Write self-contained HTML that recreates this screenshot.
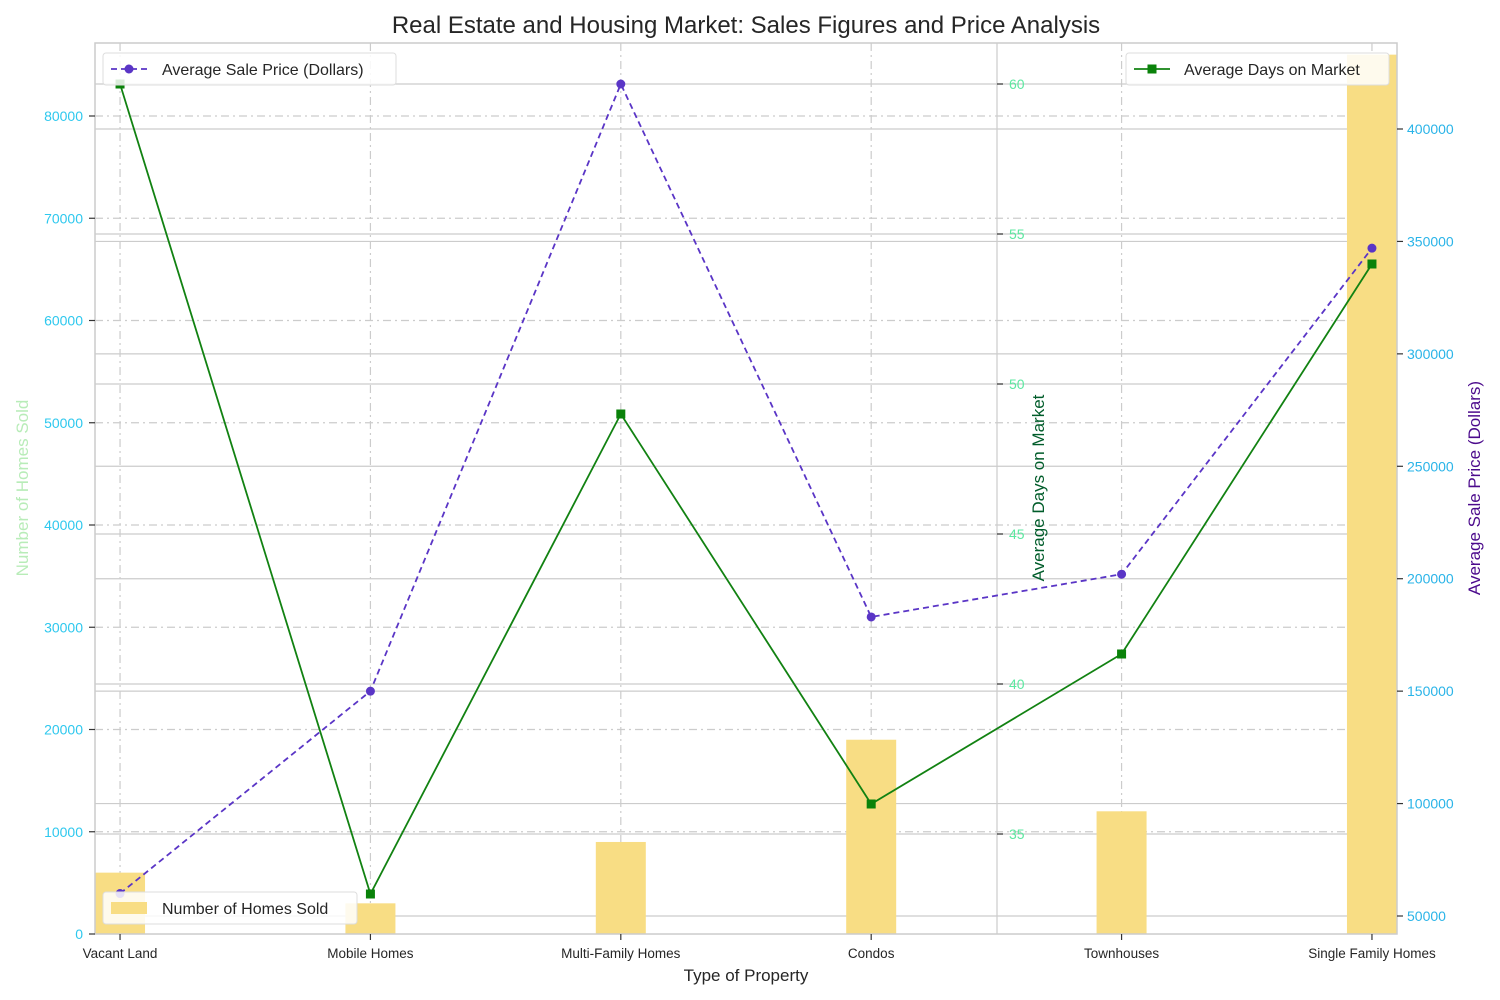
<!DOCTYPE html>
<html><head><meta charset="utf-8"><style>
body{margin:0;background:#fff;}
svg{display:block;font-family:"Liberation Sans","DejaVu Sans",sans-serif;}
</style></head><body>
<svg id="c" width="1500" height="1000" viewBox="0 0 1500 1000"></svg>
<script>
const categories=["Vacant Land","Mobile Homes","Multi-Family Homes","Condos","Townhouses","Single Family Homes"];
const homesSold=[6000,3000,9000,19000,12000,86000];
const avgDays=[60,33,49,36,41,54];
const avgPrice=[60000,150000,420000,183000,202000,347000];
const leftTicks=[0,10000,20000,30000,40000,50000,60000,70000,80000];
const daysTicks=[35,40,45,50,55,60];
const priceTicks=[50000,100000,150000,200000,250000,300000,350000,400000];

const L=95,R=1397,T=43,B=934;
const NS="http://www.w3.org/2000/svg";
const svg=document.getElementById('c');
function el(tag,attrs,parent){const e=document.createElementNS(NS,tag);for(const k in attrs)e.setAttribute(k,attrs[k]);(parent||svg).appendChild(e);return e;}
const xS=i=>L+(i+0.1)*(R-L)/5.2;
const yL=v=>B-v*(B-116)/80000;
const yD=v=>84+(60-v)*30;
const yP=v=>916-(v-50000)*(916-129)/350000;

const grid=el('g',{});


daysTicks.forEach(t=>el('line',{x1:L,x2:R,y1:yD(t),y2:yD(t),stroke:'#cccccc','stroke-width':1.2},grid));
priceTicks.forEach(t=>el('line',{x1:L,x2:R,y1:yP(t),y2:yP(t),stroke:'#cccccc','stroke-width':1.2},grid));
leftTicks.forEach(t=>{if(t>0)el('line',{x1:L,x2:R,y1:yL(t),y2:yL(t),stroke:'#cccccc','stroke-width':1.2,'stroke-dasharray':'8 4 2 4'},grid);});
categories.forEach((c,i)=>el('line',{x1:xS(i),x2:xS(i),y1:T,y2:B,stroke:'#cccccc','stroke-width':1.2,'stroke-dasharray':'8 4 2 4'},grid));
el('line',{x1:997,x2:997,y1:T,y2:B,stroke:'#cccccc','stroke-width':1.2},grid);

homesSold.forEach((v,i)=>{
  const r=el('rect',{x:xS(i)-25,y:yL(v),width:50,height:B-yL(v),fill:'#f8dd84'});
  
  
});

const dl=el('polyline',{points:avgDays.map((v,i)=>xS(i)+','+yD(v)).join(' '),fill:'none',stroke:'#128212','stroke-width':1.8});


avgDays.forEach((v,i)=>{const m=el('rect',{x:xS(i)-4.5,y:yD(v)-4.5,width:9,height:9,fill:'#0a820a'});

});

const pl=el('polyline',{points:avgPrice.map((v,i)=>xS(i)+','+yP(v)).join(' '),fill:'none',stroke:'#5a35c6','stroke-width':1.8,'stroke-dasharray':'6 4'});


avgPrice.forEach((v,i)=>{const m=el('circle',{cx:xS(i),cy:yP(v),r:4.5,fill:'#5a35c6'});

});

el('rect',{x:L,y:T,width:R-L,height:B-T,fill:'none',stroke:'#cccccc','stroke-width':1.5});

leftTicks.forEach(t=>{el('line',{x1:L-6,x2:L,y1:yL(t),y2:yL(t),stroke:'#333','stroke-width':1.2});
const tx=el('text',{x:L-12,y:yL(t)+5,'text-anchor':'end','font-size':14,fill:'#2ec8ee'});tx.textContent=t;

});
daysTicks.forEach(t=>{el('line',{x1:997,x2:1003,y1:yD(t),y2:yD(t),stroke:'#333','stroke-width':1.2});
const tx=el('text',{x:1009,y:yD(t)+5,'font-size':14,fill:'#5ce8a0'});tx.textContent=t;

});
priceTicks.forEach(t=>{el('line',{x1:R,x2:R+6,y1:yP(t),y2:yP(t),stroke:'#333','stroke-width':1.2});
const tx=el('text',{x:R+10,y:yP(t)+5,'font-size':14,fill:'#2ab4e8'});tx.textContent=t;

});
categories.forEach((c,i)=>{el('line',{x1:xS(i),x2:xS(i),y1:B,y2:B+6,stroke:'#333','stroke-width':1.2});
const tx=el('text',{x:xS(i),y:B+24,'text-anchor':'middle','font-size':13.5,fill:'#262626'});tx.textContent=c;

});
</script>
<svg style="position:absolute;left:0;top:0" width="1500" height="1000">
<text x="746" y="33" text-anchor="middle" font-size="24" fill="#262626" font-family="Liberation Sans, sans-serif">Real Estate and Housing Market: Sales Figures and Price Analysis</text>
<text x="746" y="981" text-anchor="middle" font-size="17" fill="#262626" font-family="Liberation Sans, sans-serif">Type of Property</text>
<text transform="translate(28,488) rotate(-90)" text-anchor="middle" font-size="17" fill="#b8ecb8" font-family="Liberation Sans, sans-serif">Number of Homes Sold</text>
<text transform="translate(1044,488) rotate(-90)" text-anchor="middle" font-size="17" fill="#005c2a" font-family="Liberation Sans, sans-serif">Average Days on Market</text>
<text transform="translate(1480,488) rotate(-90)" text-anchor="middle" font-size="17" fill="#4b0a8c" font-family="Liberation Sans, sans-serif">Average Sale Price (Dollars)</text>
<g font-family="Liberation Sans, sans-serif">
<rect x="103" y="53" width="293" height="32" rx="3" fill="#fff" fill-opacity="0.85" stroke="#dddddd"/>
<line x1="111" y1="69" x2="147" y2="69" stroke="#5a35c6" stroke-width="1.8" stroke-dasharray="6 4"/>
<circle cx="129" cy="69" r="4.5" fill="#5a35c6"/>
<text x="162" y="75" font-size="16" fill="#262626">Average Sale Price (Dollars)</text></g>
<g font-family="Liberation Sans, sans-serif">
<rect x="1126" y="53" width="263" height="32" rx="3" fill="#fff" fill-opacity="0.85" stroke="#dddddd"/>
<line x1="1134" y1="69" x2="1170" y2="69" stroke="#128212" stroke-width="1.8"/>
<rect x="1147.5" y="64.5" width="9" height="9" fill="#0a820a"/>
<text x="1184" y="75" font-size="16" fill="#262626">Average Days on Market</text></g>
<g font-family="Liberation Sans, sans-serif">
<rect x="103" y="892" width="254" height="32" rx="3" fill="#fff" fill-opacity="0.85" stroke="#dddddd"/>
<rect x="111" y="902" width="36" height="12" fill="#f8dd84"/>
<text x="162" y="914" font-size="16" fill="#262626">Number of Homes Sold</text></g>
</svg>
</body></html>
